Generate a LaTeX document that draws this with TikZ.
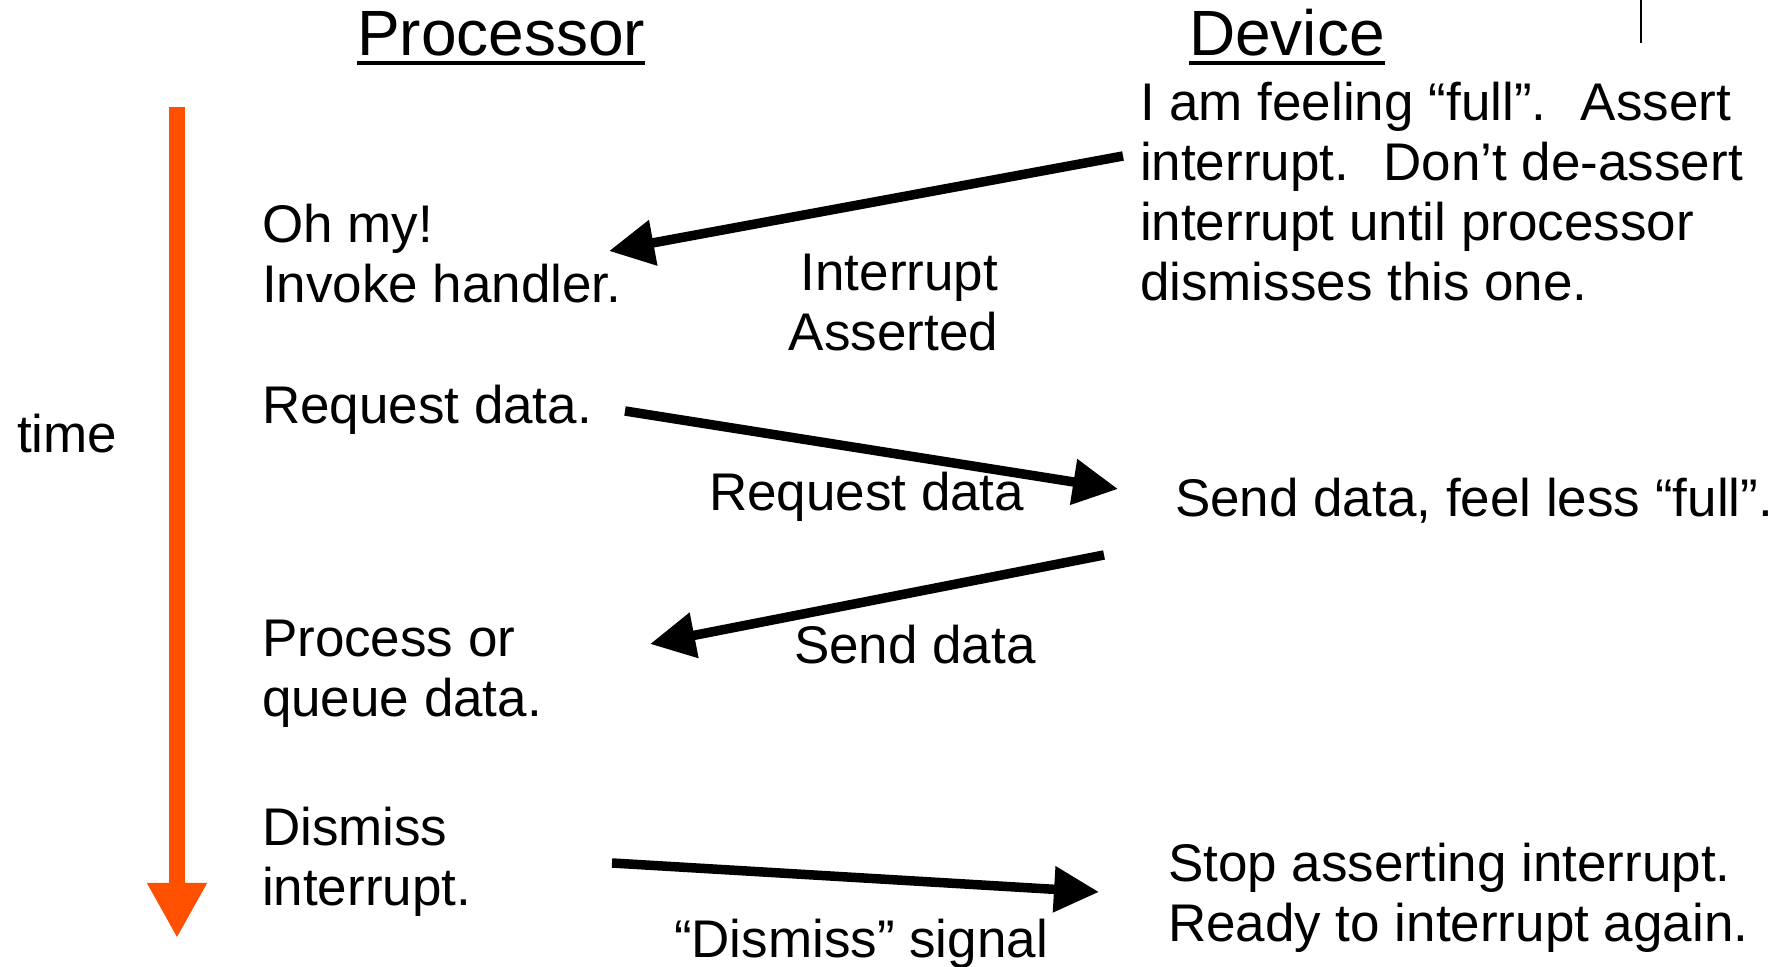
\documentclass[tikz,border=0pt]{standalone}
\usepackage{fontspec}
\setmainfont{Liberation Sans}
\usetikzlibrary{arrows.meta}

\begin{document}
\begin{tikzpicture}[x=1pt,y=1pt,
  txt/.style={text=black,anchor=base west,inner sep=0pt,outer sep=0pt,align=left,font=\fontsize{53}{60}\selectfont},
  ttl/.style={txt,font=\fontsize{64}{72}\selectfont},
  msg/.style={draw=black,line width=9.5pt,-{Triangle[length=45pt,width=44pt]}},
  uline/.style={draw=black,line width=3.5pt}]
\definecolor{timeColor}{RGB}{255,80,0}
\path[use as bounding box,fill=white] (0,0) rectangle (1787,966);

% column heads
\node[ttl] (proc) at (357,910) {Processor};
\node[ttl] (dev) at (1189,910) {Device};
\path[uline] ([yshift=-7pt]proc.base west) -- ([yshift=-7pt]proc.base east);
\path[uline] ([yshift=-7pt]dev.base west) -- ([yshift=-7pt]dev.base east);
\path[draw=black,line width=1.5pt] (1641,966) -- (1641,923);

% time axis
\node[txt] (time) at (17,513) {time};
\coordinate (t0) at (177,859);
\coordinate (t1) at (177,28);
\path[draw=timeColor,line width=16pt,-{Triangle[length=55pt,width=56pt]}] (t0) -- (t1);

% processor side (base = last line)
\node[txt] (ohmy) at (262,663) {Oh my!\\Invoke handler.};
\node[txt] (reqd) at (262,542) {Request data.};
\node[txt] (procq) at (262,249) {Process or\\queue data.};
\node[txt] (dism) at (262,60) {Dismiss\\interrupt.};

% device side
\node[txt] (full) at (1140,665) {I am feeling “full”.~ Assert\\interrupt.~ Don’t de-assert\\interrupt until processor\\dismisses this one.};
\node[txt] (send) at (1175,449) {Send data, feel less “full”.};
\node[txt] (stop) at (1168,25) {Stop asserting interrupt.\\Ready to interrupt again.};

% messages
\node[txt,anchor=base east,align=right] (irqlbl) at (998,615) {Interrupt\\Asserted};
\node[txt] (reqlbl) at (709,455) {Request data};
\node[txt] (sendlbl) at (794,302) {Send data};
\node[txt] (dismlbl) at (674,9) {“Dismiss” signal};

\coordinate (irqA) at (1123,810);
\coordinate (irqB) at (609,715);
\coordinate (reqA) at (625,555);
\coordinate (reqB) at (1118,477);
\coordinate (sendA) at (1104,411);
\coordinate (sendB) at (650,322);
\coordinate (dismA) at (612,103);
\coordinate (dismB) at (1099,74);

\path[msg] (irqA) -- (irqB);
\path[msg] (reqA) -- (reqB);
\path[msg] (sendA) -- (sendB);
\path[msg] (dismA) -- (dismB);
\end{tikzpicture}
\end{document}
